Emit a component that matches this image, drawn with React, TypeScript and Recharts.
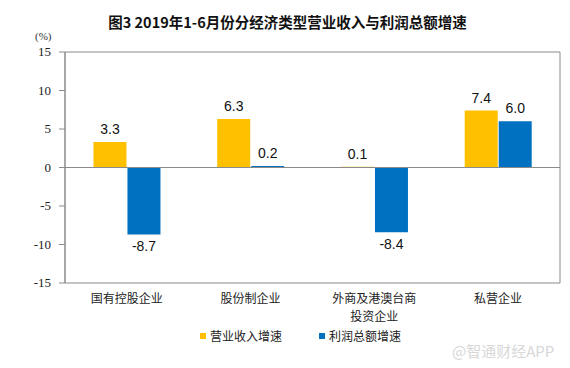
import React from "react";
import { BarChart, Bar, XAxis, YAxis, ReferenceLine, ReferenceArea, LabelList } from "recharts";

const categories = ["国有控股企业", "股份制企业", "外商及港澳台商\n投资企业", "私营企业"];
const revenueGrowth = [3.3, 6.3, 0.1, 7.4];
const profitGrowth = [-8.7, 0.2, -8.4, 6.0];
const yTicks = [-15, -10, -5, 0, 5, 10, 15];

const data = categories.map((name, i) => ({ name, revenue: revenueGrowth[i], profit: profitGrowth[i] }));

const cjk = '"Noto Sans CJK SC", "Liberation Sans", sans-serif';
const serif = '"Liberation Serif", "DejaVu Serif", serif';

const ValueLabel = (props: any) => {
  const { x, y, width, height, value } = props;
  const top = Math.min(y, y + height);
  const bottom = Math.max(y, y + height);
  const ty = value < 0 ? bottom + 17 : top - 8;
  return (
    <text x={x + width / 2} y={ty} textAnchor="middle" fontSize={14} fill="#111"
      fontFamily='"Liberation Sans", Arial, sans-serif'>
      {Number(value).toFixed(1)}
    </text>
  );
};

const CategoryTick = (props: any) => {
  const { x, y, payload } = props;
  const lines = String(payload.value).split("\n");
  return (
    <g>
      {lines.map((l, i) => (
        <text key={i} x={x} y={y + 12 + i * 18} textAnchor="middle" fontSize={12} fill="#222" fontFamily={cjk}>
          {l}
        </text>
      ))}
    </g>
  );
};

const ValueTick = (props: any) => {
  const { x, y, payload } = props;
  return (
    <text x={x} y={y} dy={4} textAnchor="end" fontSize={13} fill="#222" fontFamily={serif}>
      {payload.value}
    </text>
  );
};

export default function App() {
  return (
    <div style={{ position: "absolute", left: 0, top: 0, width: 570, height: 368, background: "#fff" }}>
      <div style={{ position: "absolute", left: 0, top: 11, width: 575, textAlign: "center", fontFamily: cjk, fontWeight: "bold", fontSize: 14.5, color: "#111" }}>
        图3 2019年1-6月份分经济类型营业收入与利润总额增速
      </div>
      <div style={{ position: "absolute", left: 35, top: 30, fontFamily: serif, fontSize: 11, color: "#333" }}>(%)</div>
      <BarChart width={570} height={368} data={data} margin={{ top: 52, right: 10, left: 0, bottom: 55 }}
        barCategoryGap="23%" barGap={1}>
        <ReferenceArea y1={-15} y2={15} fill="none" stroke="#8a8a8a" strokeWidth={1} ifOverflow="visible" />
        <ReferenceLine y={0} stroke="#8a8a8a" strokeWidth={1} />
        <XAxis dataKey="name" height={30} axisLine={false} tickLine={false} tick={<CategoryTick />} interval={0} />
        <YAxis width={65} domain={[-15, 15]} ticks={yTicks} axisLine={{ stroke: "#8a8a8a" }}
          tickLine={{ stroke: "#8a8a8a" }} tickSize={6} tickMargin={8} tick={<ValueTick />} />
        <Bar dataKey="revenue" fill="#FFC000" isAnimationActive={false}>
          <LabelList dataKey="revenue" content={<ValueLabel />} />
        </Bar>
        <Bar dataKey="profit" fill="#0070C0" isAnimationActive={false}>
          <LabelList dataKey="profit" content={<ValueLabel />} />
        </Bar>
      </BarChart>
      <div style={{ position: "absolute", left: 200, top: 327, display: "flex", fontFamily: cjk, fontSize: 12, color: "#222" }}>
        <span style={{ display: "flex", alignItems: "center" }}>
          <span style={{ width: 6, height: 6, background: "#FFC000", marginRight: 4 }} />营业收入增速
        </span>
        <span style={{ display: "flex", alignItems: "center", marginLeft: 37 }}>
          <span style={{ width: 6, height: 6, background: "#0070C0", marginRight: 4 }} />利润总额增速
        </span>
      </div>
      <div style={{ position: "absolute", left: 452, top: 340, fontFamily: cjk, fontSize: 15, color: "#d8d8d8" }}>
        @智通财经APP
      </div>
    </div>
  );
}
